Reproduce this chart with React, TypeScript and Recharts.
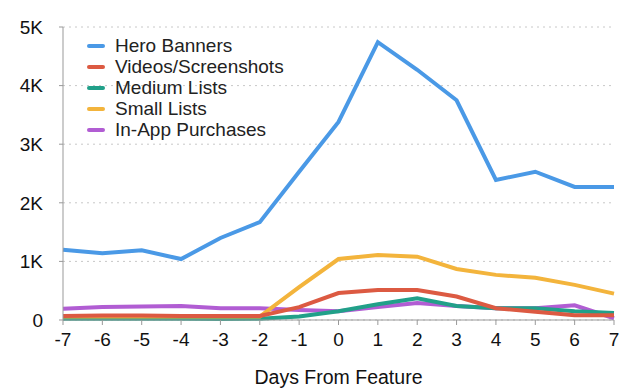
import React from 'react';
import { LineChart, Line, XAxis, YAxis, CartesianGrid } from 'recharts';

const days = [-7, -6, -5, -4, -3, -2, -1, 0, 1, 2, 3, 4, 5, 6, 7];

const heroBanners = [1200, 1140, 1190, 1040, 1400, 1670, 2530, 3380, 4740, 4270, 3750, 2390, 2530, 2270, 2270];
const videosScreenshots = [70, 75, 75, 70, 70, 70, 220, 460, 510, 510, 400, 200, 140, 80, 80];
const mediumLists = [20, 20, 20, 20, 15, 20, 60, 150, 270, 370, 240, 200, 200, 150, 120];
const smallLists = [60, 60, 60, 60, 60, 60, 560, 1040, 1110, 1080, 870, 770, 720, 600, 450];
const inAppPurchases = [190, 220, 230, 240, 200, 200, 170, 150, 220, 290, 240, 200, 200, 250, 30];

const yTicks = [0, 1000, 2000, 3000, 4000, 5000];

// legend order differs from paint order, so keep both
const series = [
  { key: 'hero', name: 'Hero Banners', color: '#4A99E6', values: heroBanners },
  { key: 'videos', name: 'Videos/Screenshots', color: '#DC5A42', values: videosScreenshots },
  { key: 'medium', name: 'Medium Lists', color: '#21A089', values: mediumLists },
  { key: 'small', name: 'Small Lists', color: '#F3B43C', values: smallLists },
  { key: 'inapp', name: 'In-App Purchases', color: '#B15DD3', values: inAppPurchases },
];
const paintOrder = ['inapp', 'medium', 'small', 'videos', 'hero'];

const data = days.map((d, i) => {
  const row: Record<string, number> = { day: d };
  series.forEach((s) => {
    row[s.key] = s.values[i];
  });
  return row;
});

const font = '"Liberation Sans", Arial, sans-serif';

const LegendBox = () => (
  <div
    style={{
      position: 'absolute',
      left: 87,
      top: 35,
      fontFamily: font,
      fontSize: 19,
      color: '#222',
      lineHeight: '21px',
      pointerEvents: 'none',
    }}
  >
    {series.map((s) => (
      <div key={s.key} style={{ display: 'flex', alignItems: 'center' }}>
        <span style={{ display: 'inline-block', width: 18, height: 4, borderRadius: 2, background: s.color, marginRight: 10 }} />
        <span>{s.name}</span>
      </div>
    ))}
  </div>
);

const App: React.FC = () => {
  return (
    <div style={{ position: 'absolute', left: 0, top: 0, width: 640, height: 392, background: '#fff' }}>
      <LineChart width={640} height={392} data={data} margin={{ top: 27, right: 26, bottom: 0, left: 0 }}>
        <CartesianGrid vertical={false} stroke="#c8c8c8" strokeDasharray="2 4" />
        <XAxis
          dataKey="day"
          type="number"
          domain={[-7, 7]}
          ticks={days}
          height={72}
          stroke="#999"
          tickSize={5}
          tick={{ fill: '#111', fontSize: 19, fontFamily: font }}
          tickMargin={8}
          label={{ value: 'Days From Feature', position: 'insideBottom', offset: 8, fill: '#111', fontSize: 19.5, fontFamily: font }}
        />
        <YAxis
          width={63}
          domain={[0, 5000]}
          ticks={yTicks}
          stroke="#999"
          tickSize={4}
          tickMargin={16}
          tick={{ fill: '#111', fontSize: 19, fontFamily: font }}
          tickFormatter={(v: number) => (v === 0 ? '0' : `${v / 1000}K`)}
        />
        {paintOrder.map((k) => {
          const s = series.find((x) => x.key === k)!;
          return (
            <Line
              key={s.key}
              dataKey={s.key}
              name={s.name}
              stroke={s.color}
              strokeWidth={4}
              dot={false}
              type="linear"
              isAnimationActive={false}
            />
          );
        })}
      </LineChart>
      <LegendBox />
    </div>
  );
};

export default App;
